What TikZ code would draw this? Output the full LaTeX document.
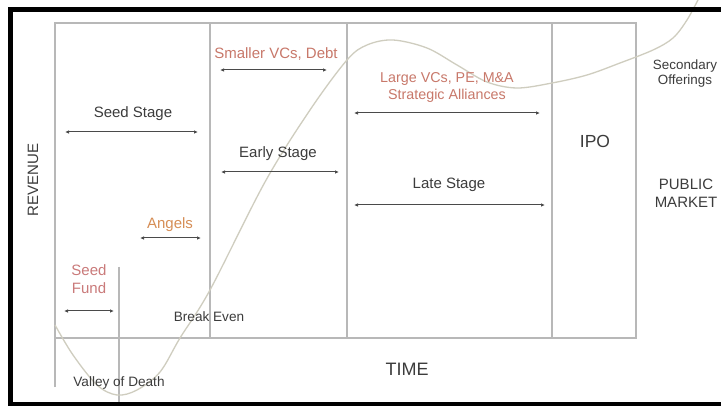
\documentclass[tikz,border=0pt]{standalone}
\usepackage{fontspec}
\setmainfont{Liberation Sans}
\usetikzlibrary{arrows.meta}
\definecolor{txtgray}{HTML}{3C3C3C}
\definecolor{gridgray}{HTML}{B8B8B8}
\definecolor{arrowgray}{HTML}{4A4A4A}
\definecolor{curvecol}{HTML}{CFCDBF}
\definecolor{fundred}{HTML}{C8786A}
\definecolor{seedred}{HTML}{CA7A7A}
\definecolor{angelor}{HTML}{D68E56}
\begin{document}
\begin{tikzpicture}[x=1pt,y=-1pt]
\tikzset{
  gridline/.style={draw=gridgray, line width=1.2pt},
  rng/.style={draw=arrowgray, line width=1pt, {Latex[length=4pt,width=3.5pt]}-{Latex[length=4pt,width=3.5pt]}},
  lbl/.style={anchor=base, inner sep=0pt, text=txtgray, font=\fontsize{15}{18}\selectfont},
  small/.style={lbl, font=\fontsize{13.6}{16}\selectfont},
  big/.style={lbl, font=\fontsize{17.5}{20}\selectfont},
  fund/.style={lbl, text=fundred},
}
\useasboundingbox (0,0) rectangle (721,406);
\fill[white] (0,0) rectangle (721,406);

% grid
\draw[gridline] (55,387) -- (55,23) -- (636,23) -- (636,338) -- (55,338);
\draw[gridline] (210,23) -- (210,338);
\draw[gridline] (347,23) -- (347,338);
\draw[gridline] (552,23) -- (552,338);
\draw[gridline] (119,267) -- (119,406);

% revenue curve
\draw[curvecol, line width=1.3pt] plot[smooth, tension=0.55] coordinates {
 (55,325) (73,355) (97,385) (117,395) (137,390) (160,372) (180,338)
 (210,290) (265,182) (310,110) (347,60) (367,45) (393,40) (427,48)
 (457,65) (487,82) (517,88) (552,83) (587,75) (620,63) (653,50)
 (673,38) (687,20) (699,-2)};

% frame
\draw[black, line width=4.5pt] (722,9.5) -- (10.5,9.5) -- (10.5,404) -- (722,404);

% range arrows
\coordinate (ssL) at (65,132);  \coordinate (ssR) at (198,132);
\coordinate (svL) at (220,70);  \coordinate (svR) at (327,70);
\coordinate (esL) at (221,172); \coordinate (esR) at (339,172);
\coordinate (anL) at (140,238); \coordinate (anR) at (201,238);
\coordinate (sfL) at (64,311);  \coordinate (sfR) at (114,311);
\coordinate (lvL) at (354,113); \coordinate (lvR) at (540,113);
\coordinate (lsL) at (354,205); \coordinate (lsR) at (545,205);
\draw[rng] (ssL) -- (ssR);
\draw[rng] (svL) -- (svR);
\draw[rng] (esL) -- (esR);
\draw[rng] (anL) -- (anR);
\draw[rng] (sfL) -- (sfR);
\draw[rng] (lvL) -- (lvR);
\draw[rng] (lsL) -- (lsR);

% labels
\node[lbl, anchor=center, rotate=90] (rev) at (33,180) {REVENUE};
\node[lbl] (seedstage) at (133,118) {Seed Stage};
\node[fund] (smallvc) at (276,59) {Smaller VCs, Debt};
\node[lbl] (early) at (278,158) {Early Stage};
\node[lbl, text=angelor] (angels) at (170,229) {Angels};
\node[lbl, text=seedred] (sf1) at (89,276) {Seed};
\node[lbl, text=seedred] (sf2) at (89,294) {Fund};
\node[small] (breakeven) at (209,322) {Break Even};
\node[small] (valley) at (119,387) {Valley of Death};
\node[fund, font=\fontsize{14.3}{17}\selectfont] (lv1) at (447,83) {Large VCs, PE, M\&A};
\node[fund, font=\fontsize{14.3}{17}\selectfont] (lv2) at (447,100) {Strategic Alliances};
\node[lbl] (late) at (449,189) {Late Stage};
\node[big] (ipo) at (595,148) {IPO};
\node[small, font=\fontsize{13.4}{16}\selectfont] (sec1) at (685,70) {Secondary};
\node[small, font=\fontsize{13.4}{16}\selectfont] (sec2) at (685,85) {Offerings};
\node[lbl] (pub1) at (686,190) {PUBLIC};
\node[lbl] (pub2) at (686,208) {MARKET};
\node[big, font=\fontsize{18}{21}\selectfont] (time) at (407,375) {TIME};
\end{tikzpicture}
\end{document}
